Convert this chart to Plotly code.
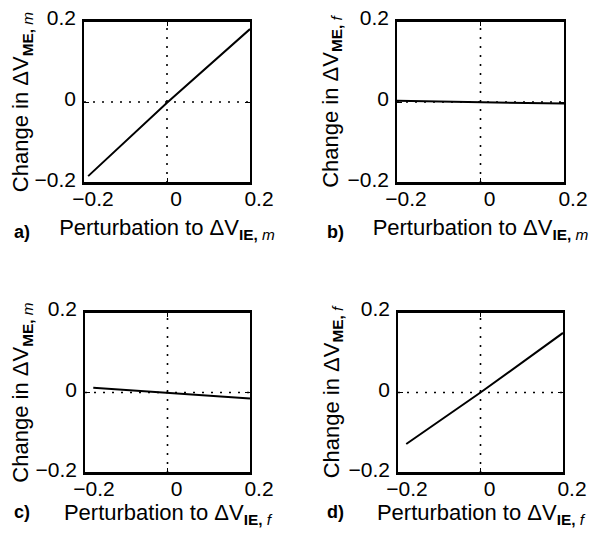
import plotly.graph_objects as go

# ---- data ----
pert_a = [-0.19, 0.0, 0.2]
change_a = [-0.183, -0.002, 0.18]
pert_b = [-0.2, 0.0, 0.2]
change_b = [0.003, 0.0, -0.004]
pert_c = [-0.18, 0.0, 0.2]
change_c = [0.012, 0.0, -0.015]
pert_d = [-0.18, 0.0, 0.2]
change_d = [-0.128, 0.0, 0.148]

tick_vals = [-0.2, 0, 0.2]
tick_text = ["\u22120.2", "0", "0.2"]

ytitles = ["Change in \u0394V<sub><b>ME,</b> <i>m</i></sub>",
           "Change in \u0394V<sub><b>ME,</b> <i>f</i></sub>",
           "Change in \u0394V<sub><b>ME,</b> <i>m</i></sub>",
           "Change in \u0394V<sub><b>ME,</b> <i>f</i></sub>"]
xtitles = ["Perturbation to \u0394V<sub><b>IE,</b> <i>m</i></sub>",
           "Perturbation to \u0394V<sub><b>IE,</b> <i>m</i></sub>",
           "Perturbation to \u0394V<sub><b>IE,</b> <i>f</i></sub>",
           "Perturbation to \u0394V<sub><b>IE,</b> <i>f</i></sub>"]
panel_labels = ["a)", "b)", "c)", "d)"]

W, H = 598, 537
OFFX, OFFY = 8, 7
# target screen-pixel boxes (left, right, top, bottom)
boxes = [(84, 250, 20, 182), (397, 564, 20, 182),
         (85, 250, 311, 472), (398, 563, 311, 472)]
xtitle_standoff = [11, 11, 0, 0]
label_pos = [(22, 231), (335, 231), (22, 511), (335, 511)]


def fx(p):
    return (p - OFFX) / W


def fy(p):
    return 1 - (p - OFFY) / H


FONT = "Liberation Sans, Arial, Helvetica, sans-serif"
fig = go.Figure()

series = [(pert_a, change_a), (pert_b, change_b), (pert_c, change_c), (pert_d, change_d)]

for i, ((xs, ys), (l, r, t, b)) in enumerate(zip(series, boxes)):
    k = "" if i == 0 else str(i + 1)
    xa, ya = "x" + k, "y" + k
    fig.add_trace(go.Scatter(x=xs, y=ys, mode="lines", xaxis=xa, yaxis=ya,
                             line=dict(color="black", width=2), showlegend=False,
                             hoverinfo="skip"))
    axis_common = dict(range=[-0.2, 0.2], tickvals=tick_vals, ticktext=tick_text,
                       ticks="inside", ticklen=5, tickwidth=1.3, tickcolor="black",
                       showline=True, linecolor="black", linewidth=1.5, mirror="ticks",
                       showgrid=False, zeroline=False, automargin=False,
                       ticklabeloverflow="allow",
                       tickfont=dict(family=FONT, size=21, color="black"))
    fig.layout["xaxis" + k] = dict(domain=[fx(l), fx(r)], anchor=ya,
                                   title=dict(text=xtitles[i], standoff=xtitle_standoff[i],
                                              font=dict(family=FONT, size=22, color="black")),
                                   ticklabelshift=9, ticklabelstandoff=-4,
                                   **axis_common)
    fig.layout["yaxis" + k] = dict(domain=[fy(b), fy(t)], anchor=xa,
                                   title=dict(text=ytitles[i], standoff=3,
                                              font=dict(family=FONT, size=22, color="black")),
                                   ticklabelstandoff=2, ticklabelshift=-3,
                                   **axis_common)
    # explicit top and bottom edges of the frame (paper-referenced)
    for yy in (t, b):
        fig.add_shape(type="line", xref="paper", yref="paper",
                      x0=fx(l), x1=fx(r), y0=fy(yy), y1=fy(yy),
                      line=dict(color="black", width=1.8), layer="above")
    # dotted zero lines
    fig.add_shape(type="line", xref=xa, yref=ya + " domain", x0=0, x1=0, y0=0, y1=1,
                  line=dict(color="black", width=1.6, dash="2px,7px"), layer="below")
    fig.add_shape(type="line", xref=xa + " domain", yref=ya, x0=0, x1=1, y0=0, y1=0,
                  line=dict(color="black", width=1.6, dash="2px,7px"), layer="below")
    lx, ly = label_pos[i]
    fig.add_annotation(text="<b>" + panel_labels[i] + "</b>", xref="paper", yref="paper",
                       x=fx(lx), y=fy(ly), showarrow=False, xanchor="center", yanchor="middle",
                       font=dict(family=FONT, size=18, color="black"))

fig.update_layout(width=W, height=H, margin=dict(l=0, r=0, t=0, b=0, autoexpand=False),
                  paper_bgcolor="white", plot_bgcolor="white")

fig.write_html("out.html")
